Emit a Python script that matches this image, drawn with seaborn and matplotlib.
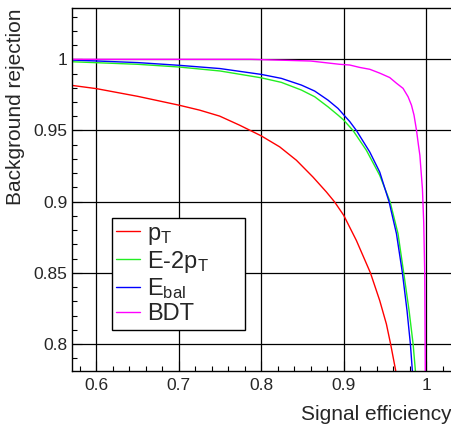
import pandas as pd
import seaborn as sns
import matplotlib.pyplot as plt
from matplotlib.ticker import MultipleLocator

# ROC curves
labels = ['$\\mathregular{p_T}$', 'E-2$\\mathregular{p_T}$', '$\\mathregular{E_{bal}}$', 'BDT']
colors = ['#ff0000', '#22ee22', '#0000ff', '#ff00ff']

pt_x = [0.57, 0.6, 0.65, 0.7, 0.7252, 0.7495, 0.7738, 0.80, 0.8223, 0.8426, 0.8627, 0.879,
        0.8891, 0.90, 0.9154, 0.9324, 0.9437, 0.9518, 0.957, 0.9631]
pt_y = [0.9817, 0.9794, 0.974, 0.9678, 0.9643, 0.9601, 0.9537, 0.9462, 0.9385, 0.9291, 0.9173, 0.9068,
        0.8997, 0.8904, 0.8727, 0.85, 0.8305, 0.814, 0.7997, 0.7812]

e2pt_x = [0.57, 0.65, 0.7, 0.75, 0.8, 0.8244, 0.8487, 0.8648, 0.881, 0.8931, 0.90, 0.9113,
          0.9275, 0.9437, 0.9562, 0.9659, 0.9728, 0.9793, 0.9842, 0.987]
e2pt_y = [0.9983, 0.9965, 0.9946, 0.9918, 0.987, 0.9838, 0.9784, 0.9737, 0.9666, 0.9608, 0.9573, 0.95,
          0.9361, 0.9185, 0.90, 0.8775, 0.85, 0.8235, 0.80, 0.781]

ebal_x = [0.57, 0.65, 0.7, 0.75, 0.8, 0.8244, 0.8487, 0.8648, 0.881, 0.8931, 0.90, 0.9073, 0.9154,
          0.9316, 0.9437, 0.955, 0.964, 0.9712, 0.9768, 0.9809, 0.9833]
ebal_y = [0.9995, 0.9977, 0.9958, 0.9935, 0.9894, 0.9866, 0.9819, 0.9777, 0.9713, 0.9655, 0.961, 0.9563, 0.95,
          0.9349, 0.9208, 0.90, 0.8775, 0.85, 0.8235, 0.80, 0.781]

bdt_x = [0.57, 0.7, 0.787, 0.86, 0.895, 0.9073, 0.9194, 0.9316, 0.9437, 0.9558, 0.964, 0.972, 0.9781,
         0.9822, 0.9853, 0.9883, 0.9907, 0.9924, 0.9955, 0.9971, 0.9983, 0.9988, 0.999]
bdt_y = [1.0, 1.0, 1.0, 0.9988, 0.9965, 0.996, 0.9943, 0.993, 0.9903, 0.9872, 0.9832, 0.9796, 0.9737,
         0.9678, 0.9608, 0.9502, 0.9396, 0.9326, 0.909, 0.885, 0.85, 0.80, 0.78]

frames = []
for lab, xs, ys in zip(labels, [pt_x, e2pt_x, ebal_x, bdt_x], [pt_y, e2pt_y, ebal_y, bdt_y]):
    frames.append(pd.DataFrame({'eff': xs, 'rej': ys, 'var': lab}))
df = pd.concat(frames, ignore_index=True)

sns.set_style('white')
plt.rcParams['font.family'] = ['Liberation Sans', 'DejaVu Sans']
plt.rcParams['mathtext.default'] = 'regular'

fig = plt.figure(figsize=(4.52, 4.25), dpi=100)
ax = fig.add_axes([0.1586, 0.127, 0.8407, 0.854])

sns.lineplot(data=df, x='eff', y='rej', hue='var', palette=colors, hue_order=labels,
             sort=False, estimator=None, linewidth=1.0, ax=ax)

ax.set_xlim(0.57, 1.031)
ax.set_ylim(0.781, 1.036)
ax.xaxis.set_major_locator(MultipleLocator(0.1))
ax.xaxis.set_minor_locator(MultipleLocator(0.02))
ax.yaxis.set_major_locator(MultipleLocator(0.05))
ax.yaxis.set_minor_locator(MultipleLocator(0.01))
ax.set_xticks([0.6, 0.7, 0.8, 0.9, 1.0], ['0.6', '0.7', '0.8', '0.9', '1'])
ax.set_yticks([0.8, 0.85, 0.9, 0.95, 1.0], ['0.8', '0.85', '0.9', '0.95', '1'])
ax.tick_params(which='both', direction='in', bottom=True, left=True, top=False, right=False,
               color='black', width=0.8)
ax.tick_params(which='major', length=7, labelsize=12.5, pad=5)
ax.tick_params(axis='y', which='major', pad=3)
ax.tick_params(which='minor', length=3.6)
ax.grid(which='major', color='black', linewidth=0.9)
ax.set_axisbelow(True)
for sp in ax.spines.values():
    sp.set_color('black')
    sp.set_linewidth(1.0)

ax.set_xlabel('Signal efficiency', fontsize=15, loc='right', labelpad=9)
ax.set_ylabel('Background rejection', fontsize=15, loc='top', labelpad=6)

ax.legend(loc='lower left', bbox_to_anchor=(0.105, 0.113, 0.351, 0.314), mode='expand',
          fontsize=17, frameon=True, fancybox=False, edgecolor='black', framealpha=1,
          handlelength=1.0, handletextpad=0.3, labelspacing=0.08, borderpad=0.2,
          borderaxespad=0)
ax.get_legend().get_frame().set_linewidth(1.0)

fig.savefig('out.png', dpi=100)
